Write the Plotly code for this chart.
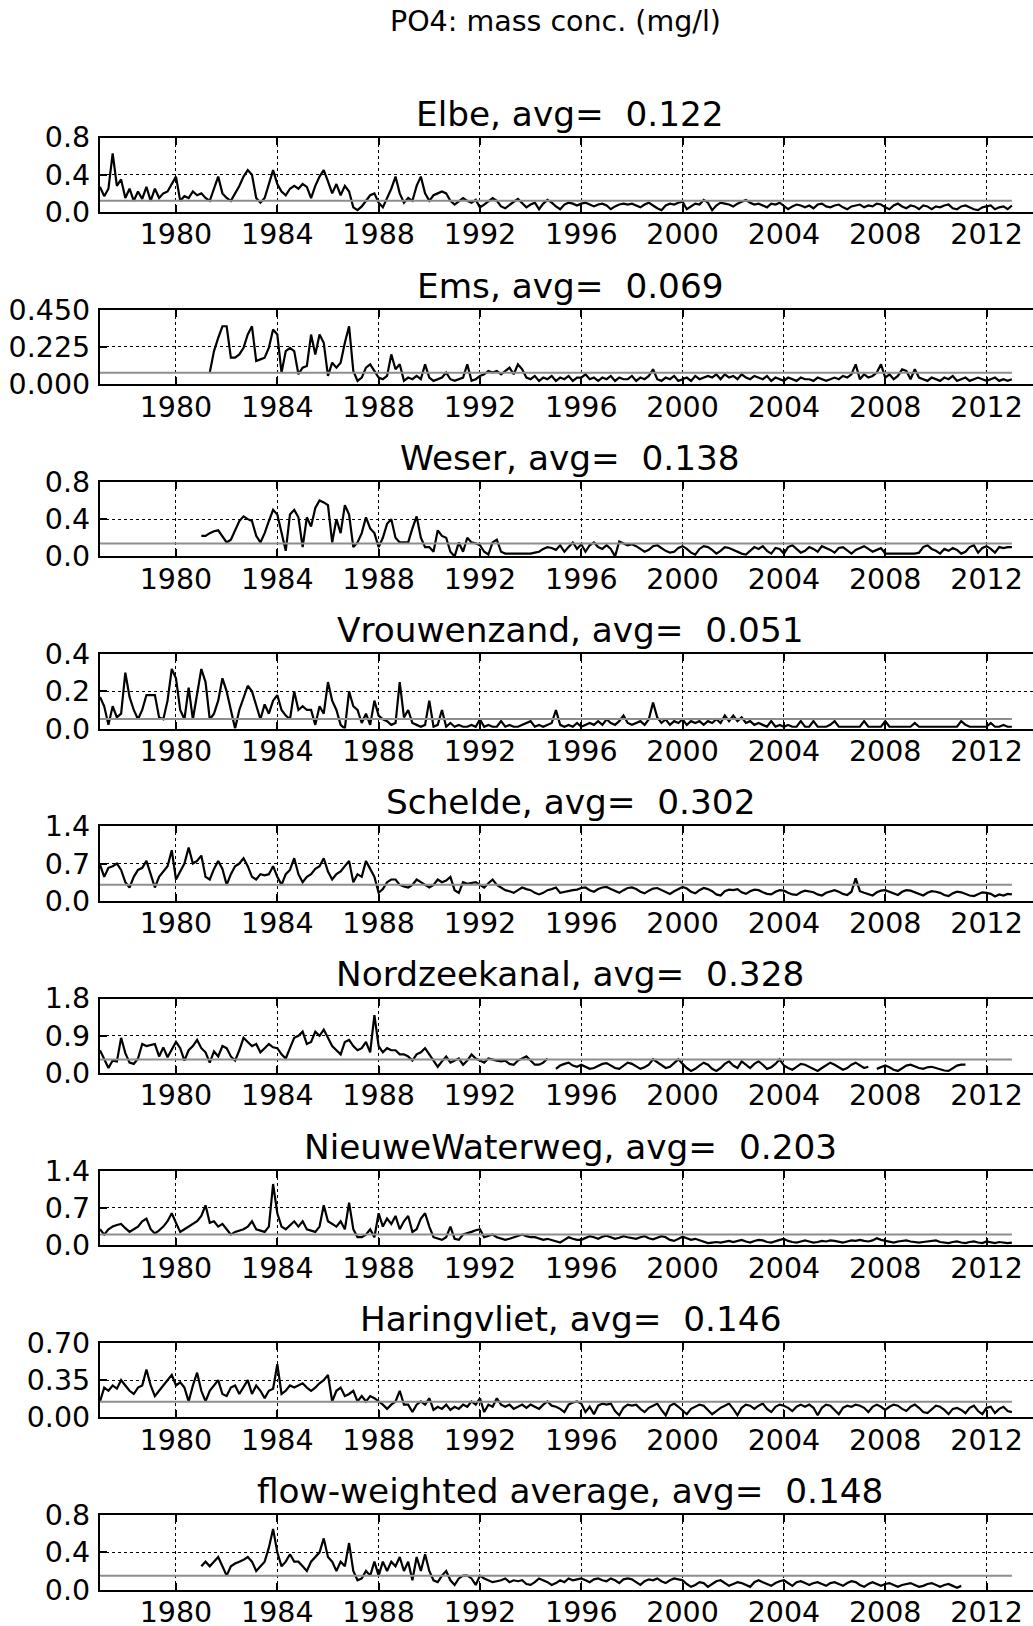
import plotly.graph_objects as go

# Two-monthly samples: each series starts at its own decimal year
STEP = 1.0 / 6.0

station_names = ["Elbe", "Ems", "Weser", "Vrouwenzand", "Schelde", "Nordzeekanal",
                 "NieuweWaterweg", "Haringvliet", "flow-weighted average"]
station_avg = [0.122, 0.069, 0.138, 0.051, 0.302, 0.328, 0.203, 0.146, 0.148]
avg_avg_text = ["0.122", "0.069", "0.138", "0.051", "0.302", "0.328", "0.203", "0.146", "0.148"]
y_max = [0.8, 0.45, 0.8, 0.4, 1.4, 1.8, 1.4, 0.70, 0.8]
y_tick_text = [
    ["0.0", "0.4", "0.8"],
    ["0.000", "0.225", "0.450"],
    ["0.0", "0.4", "0.8"],
    ["0.0", "0.2", "0.4"],
    ["0.0", "0.7", "1.4"],
    ["0.0", "0.9", "1.8"],
    ["0.0", "0.7", "1.4"],
    ["0.00", "0.35", "0.70"],
    ["0.0", "0.4", "0.8"],
]
series_start = [1977.0, 1981.0 + 1.0 / 3.0, 1981.0, 1977.0, 1977.0, 1977.0, 1977.0, 1977.0, 1981.0]
avg_span = [1977.0, 2013.0]
x_ticks = [1980, 1984, 1988, 1992, 1996, 2000, 2004, 2008, 2012]
x_tick_text = ["1980", "1984", "1988", "1992", "1996", "2000", "2004", "2008", "2012"]

elbe = [
    0.27, 0.17, 0.25, 0.63, 0.28, 0.35,  # 1977
    0.15, 0.25, 0.12, 0.22, 0.14, 0.27,
    0.12, 0.25, 0.15, 0.20, 0.22, 0.30,
    0.38, 0.12, 0.17, 0.15, 0.22, 0.18,  # 1980
    0.20, 0.15, 0.12, 0.25, 0.38, 0.20,
    0.15, 0.12, 0.20, 0.28, 0.38, 0.45,
    0.40, 0.15, 0.10, 0.15, 0.30, 0.45,
    0.30, 0.22, 0.18, 0.25, 0.28, 0.25,  # 1984
    0.30, 0.27, 0.15, 0.28, 0.38, 0.45,
    0.33, 0.20, 0.30, 0.18, 0.28, 0.22,
    0.05, 0.02, 0.06, 0.12, 0.18, 0.20,
    0.10, 0.05, 0.15, 0.25, 0.38, 0.20,  # 1988
    0.10, 0.15, 0.12, 0.28, 0.38, 0.20,
    0.12, 0.18, 0.20, 0.22, 0.20, 0.12,
    0.08, 0.12, 0.15, 0.12, 0.10, 0.13,
    0.05, 0.08, 0.12, 0.15, 0.12, 0.06,  # 1992
    0.04, 0.08, 0.11, 0.14, 0.10, 0.05,
    0.08, 0.10, 0.03, 0.09, 0.13, 0.10,
    0.06, 0.03, 0.08, 0.10, 0.09, 0.07,
    0.09, 0.10, 0.08, 0.06, 0.08, 0.09,  # 1996
    0.07, 0.03, 0.06, 0.08, 0.09, 0.08,
    0.09, 0.07, 0.05, 0.08, 0.10, 0.07,
    0.04, 0.02, 0.07, 0.09, 0.08, 0.10,
    0.11, 0.03, 0.06, 0.09, 0.08, 0.13,  # 2000
    0.10, 0.02, 0.07, 0.10, 0.09, 0.08,
    0.06, 0.09, 0.11, 0.13, 0.10, 0.08,
    0.09, 0.07, 0.05, 0.09, 0.08, 0.10,
    0.06, 0.03, 0.06, 0.08, 0.07, 0.05,  # 2004
    0.07, 0.04, 0.08, 0.09, 0.06, 0.05,
    0.07, 0.08, 0.05, 0.03, 0.06, 0.07,
    0.08, 0.05, 0.07, 0.06, 0.09, 0.08,
    0.05, 0.03, 0.07, 0.09, 0.06, 0.04,  # 2008
    0.07, 0.06, 0.03, 0.07, 0.06, 0.03,
    0.06, 0.05, 0.07, 0.08, 0.04, 0.03,
    0.06, 0.07, 0.05, 0.03, 0.02, 0.05,
    0.06, 0.07, 0.03, 0.05, 0.06, 0.03,  # 2012
    0.07,
]

ems = [
    0.07, 0.20, 0.28, 0.35,              # 1981 (from May)
    0.35, 0.16, 0.16, 0.18, 0.22, 0.30,  # 1982
    0.35, 0.14, 0.15, 0.16, 0.22, 0.33,
    0.30, 0.07, 0.20, 0.22, 0.20, 0.06,  # 1984
    0.10, 0.11, 0.30, 0.18, 0.30, 0.25,
    0.05, 0.13, 0.10, 0.13, 0.25, 0.35,
    0.08, 0.02, 0.04, 0.10, 0.12, 0.08,
    0.04, 0.03, 0.05, 0.18, 0.09, 0.12,  # 1988
    0.02, 0.04, 0.03, 0.05, 0.03, 0.12,
    0.04, 0.02, 0.03, 0.04, 0.07, 0.03,
    0.02, 0.03, 0.04, 0.12, 0.02, 0.03,
    0.05, 0.06, 0.08, 0.07, 0.08, 0.06,  # 1992
    0.08, 0.10, 0.06, 0.12, 0.09, 0.04,
    0.03, 0.05, 0.02, 0.04, 0.03, 0.05,
    0.02, 0.04, 0.03, 0.05, 0.02, 0.04,
    0.04, 0.06, 0.03, 0.04, 0.02, 0.04,  # 1996
    0.03, 0.05, 0.02, 0.04, 0.03, 0.03,
    0.05, 0.02, 0.04, 0.03, 0.05, 0.09,
    0.03, 0.02, 0.04, 0.03, 0.05, 0.02,
    0.03, 0.04, 0.02, 0.05, 0.03, 0.04,  # 2000
    0.05, 0.04, 0.06, 0.03, 0.06, 0.04,
    0.05, 0.03, 0.06, 0.04, 0.03, 0.05,
    0.04, 0.03, 0.05, 0.02, 0.04, 0.03,
    0.02, 0.04, 0.03, 0.02, 0.04, 0.03,  # 2004
    0.03, 0.02, 0.04, 0.03, 0.02, 0.03,
    0.04, 0.03, 0.05, 0.04, 0.06, 0.12,
    0.03, 0.06, 0.04, 0.05, 0.07, 0.12,
    0.04, 0.06, 0.03, 0.05, 0.09, 0.08,  # 2008
    0.03, 0.09, 0.04, 0.03, 0.02, 0.04,
    0.03, 0.02, 0.04, 0.03, 0.05, 0.02,
    0.03, 0.04, 0.02, 0.03, 0.04, 0.03,
    0.02, 0.03, 0.04, 0.02, 0.03, 0.02,  # 2012
    0.03,
]

weser = [
    0.22, 0.22, 0.25, 0.27, 0.28, 0.22,  # 1981
    0.15, 0.18, 0.28, 0.38, 0.43, 0.40,
    0.38, 0.22, 0.15, 0.25, 0.38, 0.50,
    0.45, 0.25, 0.06, 0.45, 0.50, 0.42,  # 1984
    0.10, 0.42, 0.32, 0.52, 0.60, 0.58,
    0.55, 0.15, 0.40, 0.25, 0.55, 0.45,
    0.10, 0.15, 0.25, 0.42, 0.30, 0.25,
    0.10, 0.20, 0.35, 0.40, 0.20, 0.15,  # 1988
    0.15, 0.15, 0.30, 0.43, 0.20, 0.10,
    0.10, 0.05, 0.28, 0.22, 0.20, 0.05,
    0.00, 0.15, 0.05, 0.20, 0.15, 0.14,
    0.12, 0.05, 0.02, 0.15, 0.18, 0.05,  # 1992
    0.03, 0.03, 0.03, 0.03, 0.03, 0.03,
    0.03, 0.04, 0.05, 0.08, 0.10, 0.09,
    0.07, 0.12, 0.05, 0.10, 0.15, 0.08,
    0.13, 0.05, 0.12, 0.15, 0.10, 0.08,  # 1996
    0.12, 0.08, 0.00, 0.16, 0.14, 0.12,
    0.13, 0.11, 0.08, 0.05, 0.07, 0.11,
    0.12, 0.09, 0.06, 0.04, 0.05, 0.09,
    0.11, 0.08, 0.04, 0.02, 0.08, 0.11,  # 2000
    0.10, 0.07, 0.03, 0.06, 0.10, 0.09,
    0.07, 0.05, 0.03, 0.02, 0.06, 0.10,
    0.08, 0.11, 0.06, 0.03, 0.09, 0.08,
    0.03, 0.10, 0.12, 0.08, 0.04, 0.06,  # 2004
    0.10, 0.08, 0.05, 0.11, 0.09, 0.07,
    0.04, 0.09, 0.10, 0.06, 0.03, 0.07,
    0.09, 0.11, 0.08, 0.05, 0.07, 0.09,
    0.03, 0.03, 0.03, 0.03, 0.03, 0.03,  # 2008
    0.03, 0.03, 0.04, 0.10, 0.12, 0.08,
    0.06, 0.03, 0.08, 0.06, 0.09, 0.07,
    0.03, 0.05, 0.10, 0.12, 0.04, 0.09,
    0.11, 0.08, 0.04, 0.10, 0.09, 0.10,  # 2012
    0.10,
]

vrouwenzand = [
    0.17, 0.12, 0.02, 0.12, 0.06, 0.08,  # 1977
    0.30, 0.17, 0.10, 0.05, 0.10, 0.18,
    0.18, 0.18, 0.06, 0.05, 0.15, 0.32,
    0.27, 0.10, 0.05, 0.22, 0.05, 0.18,  # 1980
    0.32, 0.25, 0.05, 0.08, 0.15, 0.27,
    0.20, 0.10, 0.00, 0.10, 0.17, 0.23,
    0.20, 0.12, 0.05, 0.13, 0.08, 0.15,
    0.18, 0.10, 0.07, 0.05, 0.20, 0.10,  # 1984
    0.12, 0.10, 0.10, 0.02, 0.12, 0.08,
    0.25, 0.15, 0.10, 0.02, 0.00, 0.20,
    0.12, 0.10, 0.03, 0.08, 0.02, 0.15,
    0.07, 0.05, 0.04, 0.02, 0.03, 0.25,  # 1988
    0.06, 0.10, 0.03, 0.02, 0.01, 0.02,
    0.15, 0.01, 0.02, 0.10, 0.01, 0.03,
    0.01, 0.02, 0.01, 0.01, 0.02, 0.01,
    0.05, 0.01, 0.02, 0.01, 0.01, 0.04,  # 1992
    0.01, 0.02, 0.01, 0.01, 0.02, 0.03,
    0.04, 0.01, 0.02, 0.01, 0.02, 0.03,
    0.10, 0.02, 0.01, 0.02, 0.01, 0.03,
    0.01, 0.02, 0.03, 0.02, 0.04, 0.02,  # 1996
    0.05, 0.03, 0.02, 0.04, 0.07, 0.03,
    0.02, 0.03, 0.04, 0.02, 0.05, 0.14,
    0.06, 0.03, 0.05, 0.02, 0.04, 0.03,
    0.05, 0.02, 0.04, 0.03, 0.04, 0.02,  # 2000
    0.04, 0.03, 0.05, 0.03, 0.07, 0.04,
    0.07, 0.04, 0.06, 0.03, 0.04, 0.02,
    0.03, 0.02, 0.01, 0.04, 0.01, 0.02,
    0.01, 0.02, 0.01, 0.01, 0.04, 0.01,  # 2004
    0.01, 0.04, 0.01, 0.01, 0.01, 0.02,
    0.04, 0.01, 0.01, 0.01, 0.01, 0.01,
    0.01, 0.04, 0.01, 0.01, 0.01, 0.01,
    0.04, 0.01, 0.01, 0.01, 0.01, 0.01,  # 2008
    0.01, 0.03, 0.01, 0.01, 0.01, 0.01,
    0.01, 0.01, 0.01, 0.01, 0.01, 0.01,
    0.04, 0.02, 0.01, 0.01, 0.01, 0.01,
    0.01, 0.03, 0.01, 0.01, 0.02, 0.01,  # 2012
    0.01,
]

schelde = [
    0.68, 0.45, 0.62, 0.65, 0.70, 0.58,  # 1977
    0.35, 0.25, 0.45, 0.58, 0.62, 0.75,
    0.50, 0.25, 0.45, 0.55, 0.65, 0.95,
    0.40, 0.55, 0.70, 1.00, 0.70, 0.75,  # 1980
    0.85, 0.45, 0.40, 0.60, 0.75, 0.60,
    0.30, 0.50, 0.65, 0.70, 0.80, 0.65,
    0.45, 0.40, 0.50, 0.48, 0.50, 0.65,
    0.45, 0.30, 0.50, 0.58, 0.80, 0.50,  # 1984
    0.35, 0.45, 0.50, 0.60, 0.65, 0.80,
    0.55, 0.40, 0.50, 0.55, 0.65, 0.75,
    0.35, 0.50, 0.45, 0.75, 0.60, 0.45,
    0.15, 0.22, 0.35, 0.40, 0.40, 0.30,  # 1988
    0.27, 0.25, 0.30, 0.40, 0.35, 0.30,
    0.25, 0.30, 0.40, 0.35, 0.38, 0.45,
    0.20, 0.15, 0.35, 0.32, 0.33, 0.35,
    0.30, 0.25, 0.33, 0.40, 0.30, 0.25,  # 1992
    0.20, 0.18, 0.15, 0.20, 0.25, 0.22,
    0.20, 0.15, 0.12, 0.15, 0.20, 0.22,
    0.25, 0.15, 0.17, 0.18, 0.20, 0.21,
    0.24, 0.25, 0.20, 0.17, 0.22, 0.25,  # 1996
    0.26, 0.22, 0.18, 0.15, 0.20, 0.24,
    0.25, 0.22, 0.17, 0.14, 0.19, 0.23,
    0.24, 0.20, 0.16, 0.13, 0.18, 0.22,
    0.26, 0.23, 0.17, 0.14, 0.20, 0.24,  # 2000
    0.22, 0.18, 0.12, 0.10, 0.18, 0.21,
    0.20, 0.22, 0.16, 0.13, 0.18, 0.21,
    0.20, 0.16, 0.13, 0.12, 0.17, 0.20,
    0.19, 0.15, 0.12, 0.11, 0.16, 0.19,  # 2004
    0.18, 0.16, 0.12, 0.10, 0.15, 0.18,
    0.20, 0.17, 0.13, 0.11, 0.17, 0.42,
    0.18, 0.15, 0.12, 0.10, 0.16, 0.19,
    0.20, 0.17, 0.14, 0.11, 0.17, 0.20,  # 2008
    0.19, 0.16, 0.12, 0.10, 0.15, 0.18,
    0.17, 0.15, 0.11, 0.09, 0.14, 0.17,
    0.16, 0.13, 0.10, 0.09, 0.13, 0.16,
    0.15, 0.13, 0.08, 0.12, 0.10, 0.13,  # 2012
    0.12,
]

nordzeekanal = [
    0.55, 0.35, 0.12, 0.30, 0.28, 0.85,  # 1977
    0.48, 0.25, 0.22, 0.35, 0.70, 0.65,
    0.68, 0.70, 0.40, 0.62, 0.38, 0.55,
    0.75, 0.60, 0.30, 0.55, 0.65, 0.80,  # 1980
    0.60, 0.50, 0.25, 0.52, 0.40, 0.65,
    0.60, 0.40, 0.30, 0.55, 0.85, 0.75,
    0.65, 0.70, 0.50, 0.60, 0.70, 0.62,
    0.60, 0.45, 0.35, 0.60, 0.85, 0.90,  # 1984
    1.00, 0.70, 0.75, 1.00, 0.90, 1.05,
    0.85, 0.65, 0.55, 0.45, 0.75, 0.80,
    0.65, 0.55, 0.60, 0.75, 0.50, 1.40,
    0.65, 0.50, 0.60, 0.55, 0.55, 0.45,  # 1988
    0.45, 0.40, 0.30, 0.45, 0.50, 0.60,
    0.45, 0.30, 0.15, 0.28, 0.40, 0.25,
    0.30, 0.35, 0.20, 0.30, 0.45, 0.35,
    0.30, 0.25, 0.35, 0.32, 0.30, 0.28,  # 1992
    0.30, 0.22, 0.20, 0.30, 0.35, 0.40,
    0.30, 0.20, 0.20, 0.25, 0.35, None,
    0.10, 0.18, 0.22, 0.25, 0.18, 0.15,
    0.20, 0.15, 0.10, 0.12, 0.18, 0.22,  # 1996
    0.24, 0.18, 0.12, 0.10, 0.17, 0.25,
    0.22, 0.15, 0.10, 0.14, 0.20, 0.33,
    0.26, 0.18, 0.12, 0.15, 0.24, 0.33,
    0.22, 0.12, 0.05, 0.10, 0.18, 0.25,  # 2000
    0.20, 0.10, 0.05, 0.12, 0.22, 0.28,
    0.18, 0.12, 0.28, 0.20, 0.12, 0.22,
    0.28, 0.20, 0.10, 0.14, 0.22, 0.33,
    0.18, 0.12, 0.08, 0.15, 0.22, 0.20,  # 2004
    0.15, 0.10, 0.05, 0.12, 0.18, 0.25,
    0.20, 0.14, 0.08, 0.12, 0.20, 0.25,
    0.18, 0.12, 0.15, None, 0.10, 0.15,
    0.18, 0.14, 0.08, 0.05, 0.12, 0.18,  # 2008
    0.20, 0.16, 0.12, 0.10, 0.14, 0.15,
    0.12, 0.10, 0.06, 0.05, 0.12, 0.18,
    0.20, 0.20,
]

nieuwe_waterweg = [
    0.30, 0.20, 0.30, 0.35, 0.38, 0.40,  # 1977
    0.32, 0.25, 0.30, 0.35, 0.45, 0.50,
    0.30, 0.22, 0.28, 0.35, 0.45, 0.60,
    0.42, 0.25, 0.30, 0.35, 0.40, 0.45,  # 1980
    0.55, 0.75, 0.42, 0.45, 0.35, 0.40,
    0.30, 0.20, 0.25, 0.28, 0.30, 0.35,
    0.45, 0.30, 0.28, 0.25, 0.35, 1.15,
    0.60, 0.35, 0.30, 0.38, 0.45, 0.35,  # 1984
    0.45, 0.30, 0.28, 0.25, 0.35, 0.75,
    0.45, 0.40, 0.35, 0.45, 0.30, 0.80,
    0.30, 0.15, 0.15, 0.20, 0.30, 0.15,
    0.60, 0.35, 0.50, 0.40, 0.55, 0.30,  # 1988
    0.45, 0.55, 0.25, 0.30, 0.50, 0.60,
    0.35, 0.15, 0.12, 0.10, 0.15, 0.35,
    0.12, 0.10, 0.20, 0.22, 0.25, 0.28,
    0.30, 0.15, 0.18, 0.20, 0.15, 0.12,  # 1992
    0.10, 0.12, 0.15, 0.18, 0.20, 0.17,
    0.15, 0.15, 0.12, 0.10, 0.12, 0.10,
    0.08, 0.05, 0.10, 0.15, 0.12, 0.10,
    0.10, 0.14, 0.17, 0.15, 0.12, 0.16,  # 1996
    0.18, 0.15, 0.12, 0.14, 0.17, 0.15,
    0.14, 0.12, 0.15, 0.17, 0.13, 0.11,
    0.14, 0.17, 0.15, 0.10, 0.08, 0.12,
    0.16, 0.13, 0.10, 0.12, 0.09, 0.06,  # 2000
    0.04, 0.05, 0.06, 0.05, 0.07, 0.08,
    0.06, 0.08, 0.10, 0.07, 0.05, 0.08,
    0.10, 0.09, 0.06, 0.05, 0.08, 0.10,
    0.12, 0.08, 0.06, 0.05, 0.07, 0.09,  # 2004
    0.07, 0.05, 0.06, 0.08, 0.07, 0.09,
    0.08, 0.06, 0.05, 0.07, 0.09, 0.08,
    0.10, 0.08, 0.07, 0.09, 0.13, 0.10,
    0.08, 0.06, 0.05, 0.07, 0.08, 0.09,  # 2008
    0.07, 0.06, 0.05, 0.06, 0.07, 0.08,
    0.09, 0.06, 0.05, 0.04, 0.06, 0.07,
    0.05, 0.04, 0.06, 0.07, 0.05, 0.04,
    0.07, 0.05, 0.04, 0.06, 0.05, 0.04,  # 2012
    0.05,
]

haringvliet = [
    0.15, 0.28, 0.25, 0.30, 0.27, 0.35,  # 1977
    0.30, 0.25, 0.22, 0.28, 0.30, 0.45,
    0.30, 0.20, 0.25, 0.30, 0.35, 0.40,
    0.30, 0.33, 0.28, 0.15, 0.30, 0.42,  # 1980
    0.25, 0.15, 0.25, 0.30, 0.35, 0.22,
    0.20, 0.28, 0.30, 0.22, 0.28, 0.35,
    0.22, 0.30, 0.25, 0.18, 0.25, 0.27,
    0.50, 0.22, 0.25, 0.30, 0.28, 0.30,  # 1984
    0.32, 0.28, 0.25, 0.28, 0.32, 0.35,
    0.40, 0.15, 0.25, 0.28, 0.20, 0.22,
    0.25, 0.15, 0.20, 0.15, 0.20, 0.18,
    0.15, 0.12, 0.08, 0.12, 0.15, 0.25,  # 1988
    0.12, 0.12, 0.05, 0.12, 0.15, 0.12,
    0.18, 0.07, 0.10, 0.08, 0.12, 0.07,
    0.10, 0.08, 0.12, 0.10, 0.15, 0.12,
    0.18, 0.05, 0.12, 0.10, 0.18, 0.12,  # 1992
    0.10, 0.12, 0.08, 0.10, 0.12, 0.09,
    0.12, 0.10, 0.08, 0.12, 0.15, 0.11,
    0.10, 0.08, 0.05, 0.12, 0.14, 0.15,
    0.13, 0.05, 0.10, 0.03, 0.11, 0.13,  # 1996
    0.12, 0.13, 0.06, 0.02, 0.09, 0.12,
    0.11, 0.12, 0.08, 0.05, 0.09, 0.11,
    0.13, 0.07, 0.02, 0.11, 0.13, 0.10,
    0.06, 0.03, 0.08, 0.10, 0.12, 0.11,  # 2000
    0.07, 0.03, 0.06, 0.09, 0.11, 0.13,
    0.08, 0.02, 0.09, 0.12, 0.11, 0.08,
    0.11, 0.13, 0.08, 0.05, 0.10, 0.12,
    0.11, 0.09, 0.06, 0.10, 0.12, 0.10,  # 2004
    0.12, 0.09, 0.02, 0.09, 0.12, 0.11,
    0.07, 0.03, 0.09, 0.11, 0.10, 0.12,
    0.11, 0.09, 0.05, 0.10, 0.12, 0.10,
    0.07, 0.10, 0.12, 0.11, 0.08, 0.06,  # 2008
    0.10, 0.12, 0.09, 0.05, 0.04, 0.08,
    0.11, 0.10, 0.07, 0.03, 0.08, 0.09,
    0.07, 0.04, 0.09, 0.11, 0.06, 0.03,
    0.09, 0.10, 0.04, 0.08, 0.10, 0.06,  # 2012
    0.05,
]

flow_weighted = [
    0.25, 0.30, 0.25, 0.30, 0.35, 0.25,  # 1981
    0.15, 0.25, 0.28, 0.30, 0.32, 0.35,
    0.30, 0.20, 0.25, 0.30, 0.45, 0.65,
    0.40, 0.25, 0.30, 0.38, 0.30, 0.30,  # 1984
    0.25, 0.20, 0.30, 0.35, 0.40, 0.55,
    0.35, 0.30, 0.20, 0.30, 0.25, 0.50,
    0.20, 0.10, 0.12, 0.20, 0.15, 0.30,
    0.15, 0.30, 0.20, 0.30, 0.25, 0.35,  # 1988
    0.20, 0.30, 0.10, 0.35, 0.20, 0.38,
    0.20, 0.10, 0.08, 0.15, 0.20, 0.10,
    0.05, 0.12, 0.15, 0.15, 0.12, 0.05,
    0.15, 0.12, 0.10, 0.08, 0.09, 0.10,  # 1992
    0.12, 0.08, 0.10, 0.09, 0.10, 0.06,
    0.05, 0.08, 0.12, 0.10, 0.08, 0.05,
    0.07, 0.10, 0.08, 0.12, 0.10, 0.11,
    0.12, 0.10, 0.08, 0.11, 0.12, 0.10,  # 1996
    0.09, 0.12, 0.10, 0.07, 0.11, 0.12,
    0.11, 0.08, 0.05, 0.09, 0.11, 0.10,
    0.12, 0.09, 0.07, 0.10, 0.12, 0.11,
    0.10, 0.06, 0.03, 0.05, 0.08, 0.07,  # 2000
    0.03, 0.06, 0.09, 0.10, 0.07, 0.04,
    0.06, 0.08, 0.07, 0.05, 0.03, 0.08,
    0.10, 0.08, 0.06, 0.04, 0.07, 0.09,
    0.10, 0.07, 0.04, 0.08, 0.09, 0.07,  # 2004
    0.05, 0.07, 0.08, 0.06, 0.04, 0.07,
    0.08, 0.06, 0.04, 0.07, 0.09, 0.08,
    0.05, 0.03, 0.06, 0.08, 0.06, 0.04,
    0.06, 0.07, 0.05, 0.03, 0.05, 0.06,  # 2008
    0.07, 0.05, 0.03, 0.04, 0.06, 0.07,
    0.05, 0.03, 0.05, 0.06, 0.04, 0.02,
    0.04,
]

series = [elbe, ems, weser, vrouwenzand, schelde, nordzeekanal,
          nieuwe_waterweg, haringvliet, flow_weighted]

# Page geometry (pixels)
W, H = 1033, 1626
LEFT = 100
PX_PER_YEAR = 25.33
X0 = 1977.0
X1 = X0 + (W - LEFT) / PX_PER_YEAR
PANEL_TOP0 = 137.5
PANEL_STEP = 172.2
PANEL_H = 74.5

FONT = "DejaVu Sans"
TICK_SIZE = 28.5
TITLE_SIZE = 34.3

fig = go.Figure()
annotations = []
layout_axes = {}

for k, (name, vals) in enumerate(zip(station_names, series)):
    n = k + 1
    xref = "x" if n == 1 else f"x{n}"
    yref = "y" if n == 1 else f"y{n}"
    xkey = "xaxis" if n == 1 else f"xaxis{n}"
    ykey = "yaxis" if n == 1 else f"yaxis{n}"

    times = [series_start[k] + i * STEP for i in range(len(vals))]
    fig.add_trace(go.Scatter(
        x=times, y=vals, mode="lines", connectgaps=False,
        line=dict(color="black", width=2.2), xaxis=xref, yaxis=yref,
        showlegend=False, hoverinfo="skip"))
    fig.add_trace(go.Scatter(
        x=avg_span, y=[station_avg[k], station_avg[k]], mode="lines",
        line=dict(color="#8e8e8e", width=2), xaxis=xref, yaxis=yref,
        showlegend=False, hoverinfo="skip"))

    top_px = PANEL_TOP0 + k * PANEL_STEP
    bot_px = top_px + PANEL_H
    dom = [1 - bot_px / H, 1 - top_px / H]

    layout_axes[xkey] = dict(
        domain=[0, 1], anchor=yref, range=[X0, X1],
        tickmode="array", tickvals=x_ticks, ticktext=x_tick_text,
        ticks="inside", ticklen=7, tickwidth=1.5, tickcolor="black",
        showline=True, linecolor="black", linewidth=2.2, mirror="ticks",
        showgrid=True, gridcolor="black", griddash="dot", gridwidth=1.2,
        zeroline=False, ticklabelstandoff=-4,
        tickfont=dict(family=FONT, size=TICK_SIZE, color="black"),
    )
    mid = y_max[k] / 2
    layout_axes[ykey] = dict(
        domain=dom, anchor=xref, range=[0, y_max[k]],
        tickmode="array", tickvals=[0, mid, y_max[k]], ticktext=y_tick_text[k],
        ticks="inside", ticklen=7, tickwidth=1.5, tickcolor="black",
        showline=True, linecolor="black", linewidth=2.2, mirror=False,
        showgrid=True, gridcolor="black", griddash="dot", gridwidth=1.2,
        zeroline=False, ticklabelstandoff=2,
        tickfont=dict(family=FONT, size=TICK_SIZE, color="black"),
    )

    annotations.append(dict(
        text=f"{name}, avg=\u00a0 {avg_avg_text[k]}",
        xref="paper", yref="paper", x=(570 - LEFT) / (W - LEFT), y=dom[1],
        xanchor="center", yanchor="bottom", yshift=2, showarrow=False,
        font=dict(family=FONT, size=TITLE_SIZE, color="black")))

annotations.append(dict(
    text="PO4: mass conc. (mg/l)",
    xref="paper", yref="paper", x=(555 - LEFT) / (W - LEFT), y=1,
    xanchor="center", yanchor="top", yshift=-3, showarrow=False,
    font=dict(family=FONT, size=TICK_SIZE, color="black")))

fig.update_layout(
    width=W, height=H,
    margin=dict(l=LEFT, r=0, t=0, b=0, autoexpand=False),
    paper_bgcolor="white", plot_bgcolor="white",
    annotations=annotations,
    **layout_axes,
)

fig.write_html("out.html")
